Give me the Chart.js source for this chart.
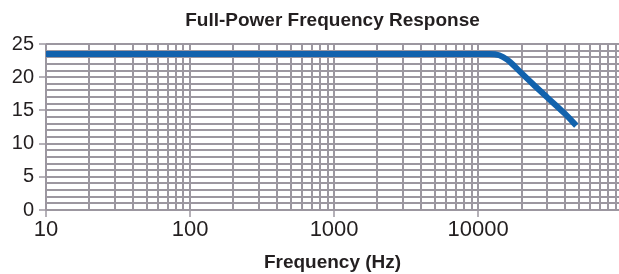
<!DOCTYPE html>
<html>
<head>
<meta charset="utf-8">
<script src="https://cdn.jsdelivr.net/npm/chart.js@4"></script>
<style>
  html, body { margin: 0; padding: 0; background: #ffffff; }
  #wrap { width: 619px; height: 274px; position: relative; }
</style>
</head>
<body>
<div id="wrap"><canvas id="c"></canvas></div>
<script>
// ---- data ----
const frequencies = [10, 100, 1000, 10000, 12000, 14000, 16000, 18000, 20000, 25000, 30000, 40000, 48000];
const amplitudes  = [23.5, 23.5, 23.5, 23.5, 23.5, 23.3, 22.6, 21.6, 20.6, 18.6, 17.0, 14.5, 12.7];
const xLabelValues = [10, 100, 1000, 10000];
const xDecades = [10, 100, 1000, 10000];
const xMultipliers = [1, 2, 3, 4, 5, 6, 7, 8, 9];
const yLabelValues = [0, 5, 10, 15, 20, 25];
const titleText = 'Full-Power Frequency Response';
const xTitleText = 'Frequency (Hz)';

const gridColor = '#9c97a0';
const textColor = '#231f20';

const points = frequencies.map((f, i) => ({ x: f, y: amplitudes[i] }));

const xTicks = [];
xDecades.forEach(d => xMultipliers.forEach(m => xTicks.push(d * m)));

new Chart(document.getElementById('c'), {
  type: 'line',
  data: {
    datasets: [{
      data: points,
      borderColor: '#1262ad',
      borderWidth: 6,
      pointRadius: 0,
      fill: false,
      cubicInterpolationMode: 'monotone'
    }]
  },
  options: {
    responsive: true,
    maintainAspectRatio: false,
    animation: false,
    layout: { padding: 0 },
    plugins: {
      legend: { display: false },
      tooltip: { enabled: false },
      title: {
        display: true,
        text: titleText,
        fullSize: false,
        color: textColor,
        font: { family: 'Liberation Sans, Arial, sans-serif', size: 19, weight: 'bold', lineHeight: 1.2 },
        padding: { top: 9, bottom: 12.2 }
      }
    },
    scales: {
      x: {
        type: 'logarithmic',
        min: 10,
        max: 95000,
        afterBuildTicks: (scale) => { scale.ticks = xTicks.map(v => ({ value: v })); },
        afterFit: (scale) => { scale.height = 64; },
        grid: {
          color: gridColor,
          lineWidth: 2,
          drawTicks: true,
          tickLength: 7,
          tickWidth: 1.5,
          tickColor: (ctx) => (ctx.tick && xLabelValues.includes(ctx.tick.value)) ? gridColor : 'rgba(0,0,0,0)'
        },
        border: { display: false },
        ticks: {
          autoSkip: false,
          maxRotation: 0,
          minRotation: 0,
          padding: 0,
          color: textColor,
          font: { family: 'Liberation Sans, Arial, sans-serif', size: 22, lineHeight: 1.2 },
          callback: (v) => xLabelValues.includes(v) ? String(v) : ''
        },
        title: {
          display: true,
          text: xTitleText,
          color: textColor,
          font: { family: 'Liberation Sans, Arial, sans-serif', size: 19, weight: 'bold', lineHeight: 1.2 },
          padding: { top: 0, bottom: 0 }
        }
      },
      y: {
        min: 0,
        max: 25,
        afterFit: (scale) => { scale.width = 46; },
        grid: {
          color: gridColor,
          lineWidth: 2,
          drawTicks: true,
          tickLength: 7,
          tickWidth: 1.5,
          tickColor: (ctx) => (ctx.tick && yLabelValues.includes(ctx.tick.value)) ? gridColor : 'rgba(0,0,0,0)'
        },
        border: { display: false },
        ticks: {
          stepSize: 1,
          autoSkip: false,
          padding: 5,
          color: textColor,
          font: { family: 'Liberation Sans, Arial, sans-serif', size: 20, lineHeight: 1.2 },
          callback: (v) => yLabelValues.includes(v) ? String(v) : ''
        }
      }
    }
  }
});
</script>
</body>
</html>
